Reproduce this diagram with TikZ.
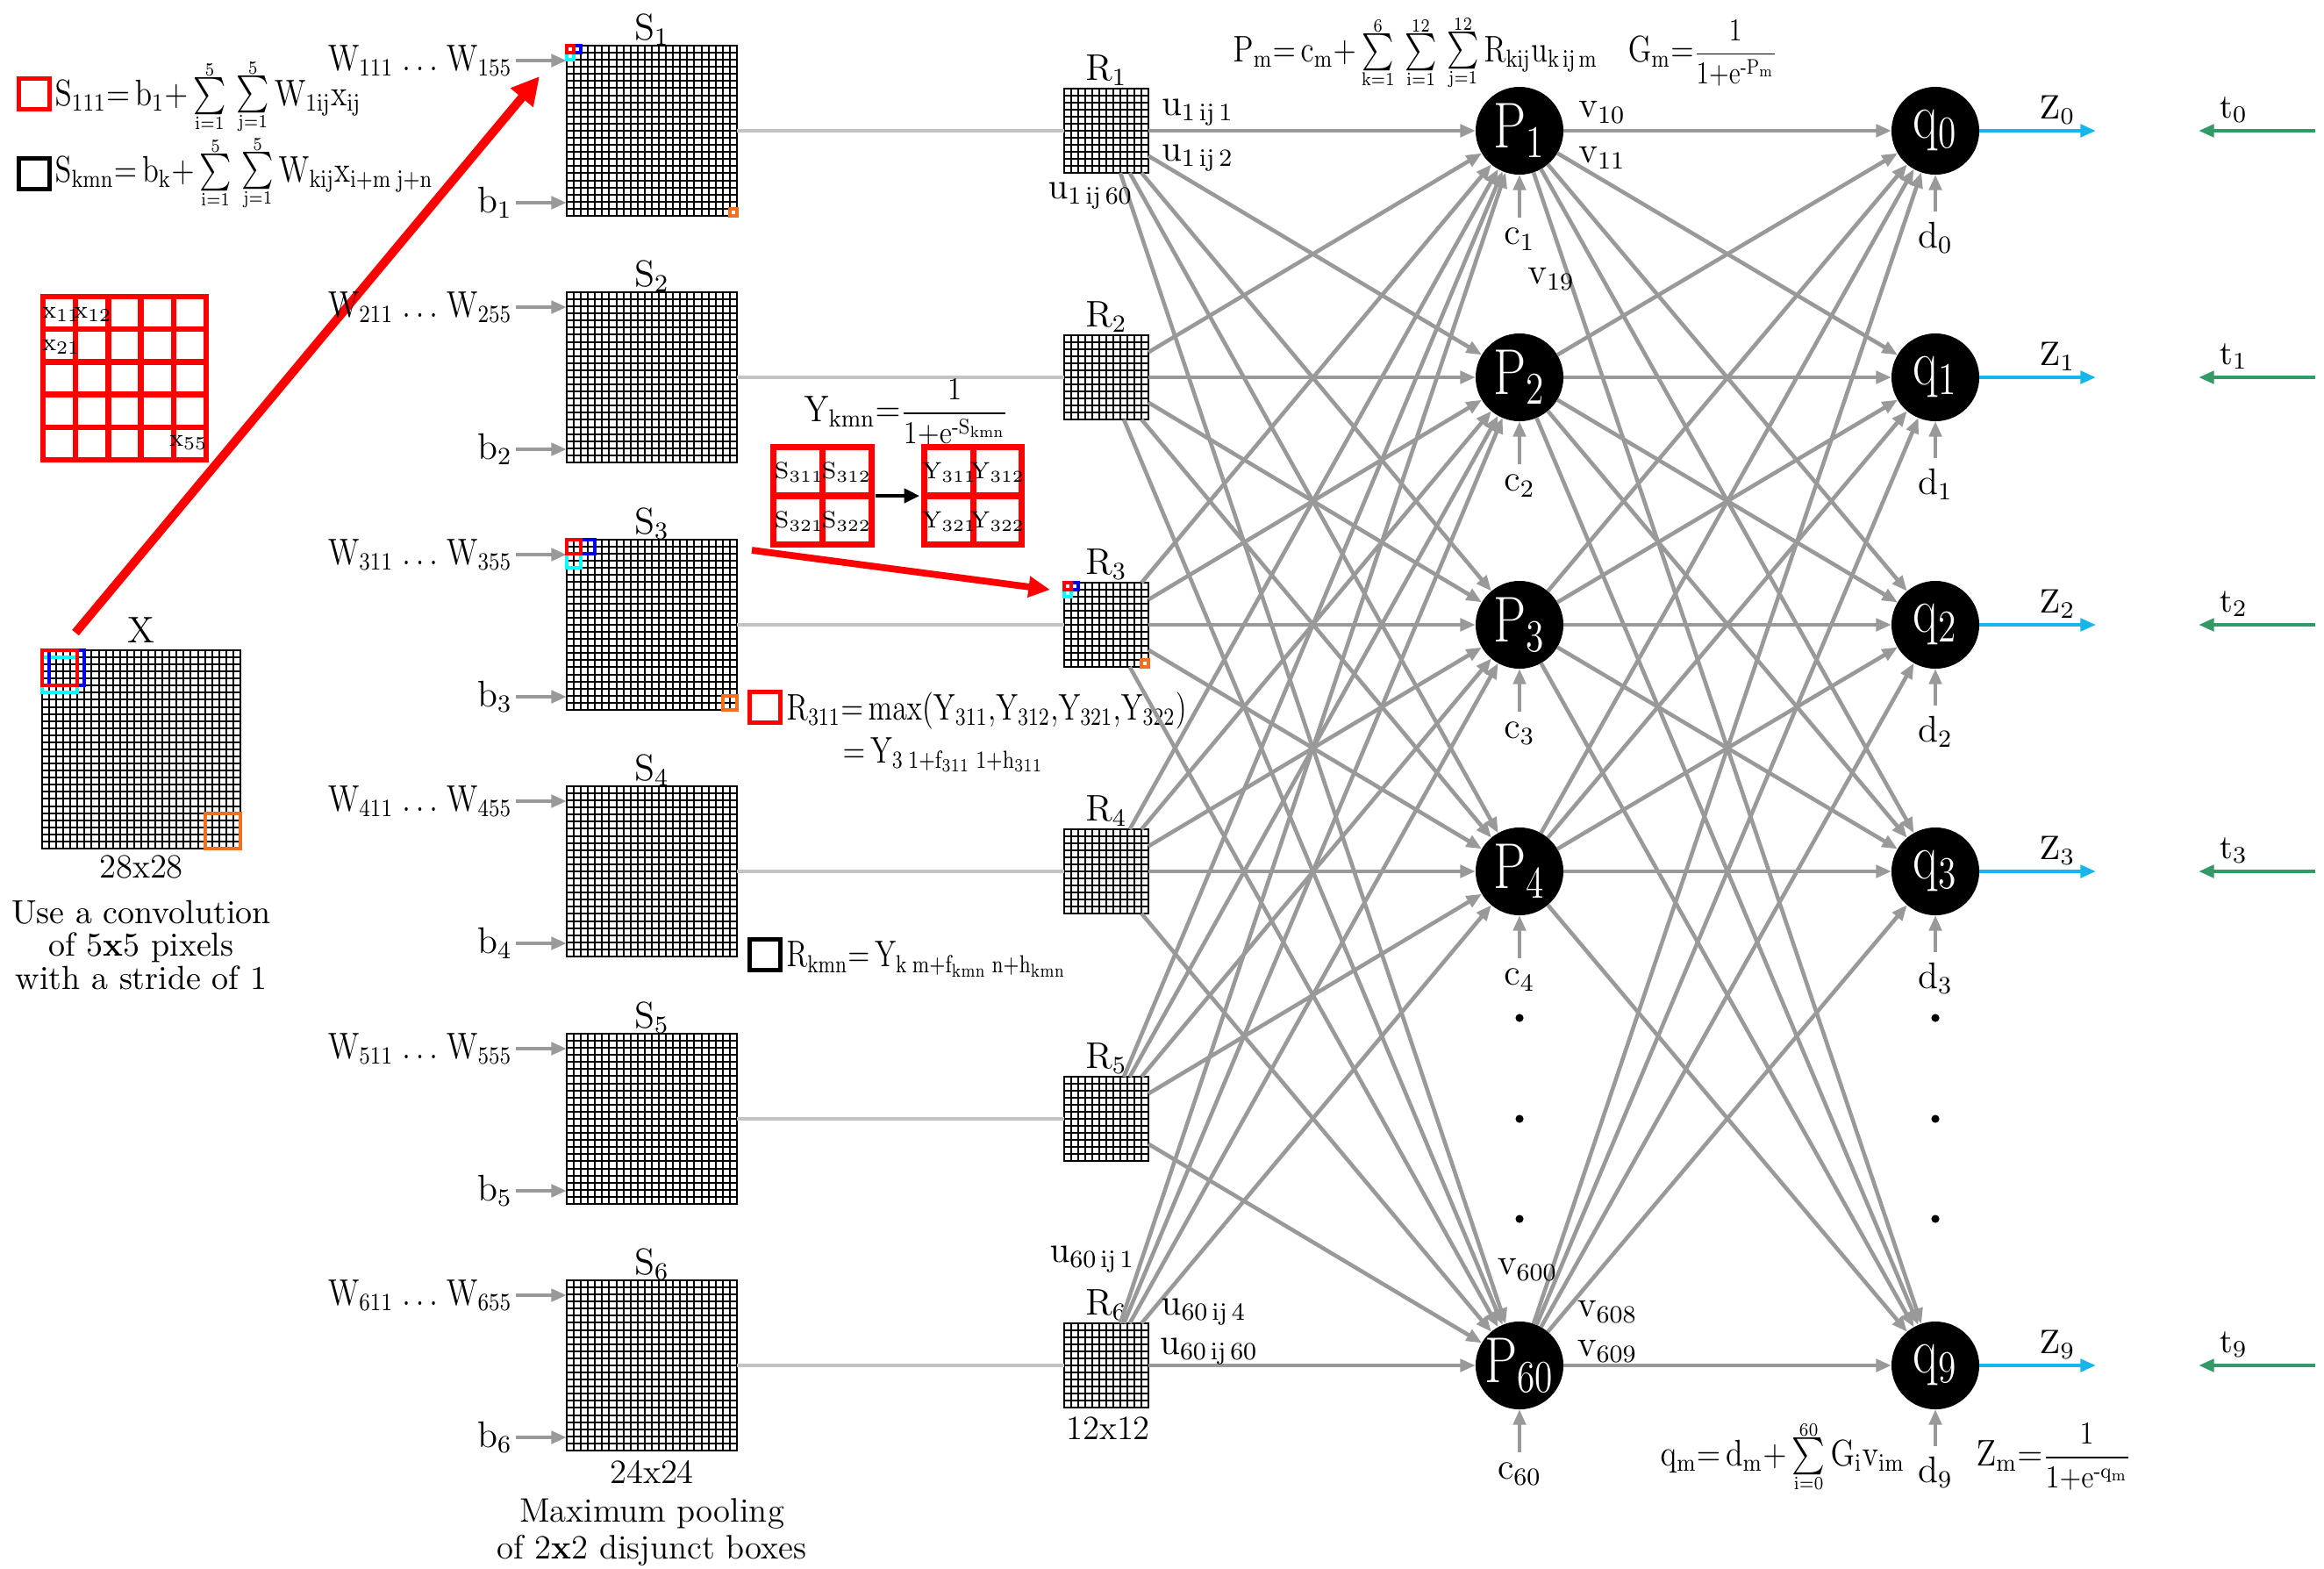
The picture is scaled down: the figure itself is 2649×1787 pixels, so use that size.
\RequirePackage{fix-cm}
\documentclass[tikz,border=0pt]{standalone}
\usepackage{amsmath}
\usepackage{graphicx}
\usetikzlibrary{arrows.meta,calc}
\definecolor{arrgray}{HTML}{999999}
\definecolor{lgray}{HTML}{C3C3C3}
\definecolor{zcyan}{HTML}{16B6EA}
\definecolor{tgreen}{HTML}{339966}
\definecolor{morange}{HTML}{F07020}
\definecolor{mcyan}{HTML}{00FFFF}
\definecolor{mblue}{HTML}{0000EE}
\definecolor{mred}{HTML}{FF0000}
\newcommand{\gridat}[4]{%
  \pgfmathsetmacro{\gx}{#1-#3/2}%
  \pgfmathsetmacro{\gy}{#2-#3/2}%
  \pgfmathsetmacro{\gs}{#3/#4}%
  \pgfmathtruncatemacro{\gnm}{#4-1}%
  \foreach \gi in {1,...,\gnm}{%
    \draw[gridline] ({\gx+round(\gi*\gs)},\gy) -- ++(0,#3);
    \draw[gridline] (\gx,{\gy+round(\gi*\gs)}) -- ++(#3,0);
  }}
% compact sum with limits
\newcommand{\csum}[2]{\mathop{\vcenter{\offinterlineskip\halign{\hfil##\hfil\cr$\scriptscriptstyle\mathrm{#2}$\cr\noalign{\kern0.6pt}$\textstyle\sum$\cr\noalign{\kern0.6pt}$\scriptscriptstyle\mathrm{#1}$\cr}}}}
\newcommand{\narrow}[2]{\scalebox{#1}[1]{#2}}
\newcommand{\sigfrac}[2]{\scalebox{0.86}{$\dfrac{#1}{#2}$}}
\begin{document}
\begin{tikzpicture}[x=0.01cm,y=-0.01cm,
  font=\fontsize{12}{14}\selectfont,
  gridline/.style={line width=0.569pt},
  gbox/.style={draw, line width=0.569pt, inner sep=0pt, outer sep=0pt},
  neuron/.style={circle, fill=black, text=white, minimum size=1cm, inner sep=0pt, outer sep=0pt, font=\fontsize{21}{24}\selectfont},
  garrow/.style={draw=arrgray, line width=1.3pt, -{Triangle[length=5pt,width=4pt]}},
  sline/.style={draw=lgray, line width=1.1pt},
  carrow/.style={draw=zcyan, line width=1.3pt, -{Triangle[length=5pt,width=4pt]}},
  tarrow/.style={draw=tgreen, line width=1.3pt, -{Triangle[length=5pt,width=4pt]}},
  cellmark/.style={line width=1pt},
  lbl/.style={inner sep=1pt},
  small/.style={font=\fontsize{11}{12}\selectfont},
  formula/.style={anchor=west, inner sep=0pt},
]
\fill[white] (0,0) rectangle (2649,1787);
\useasboundingbox (0,0) rectangle (2649,1787);

% ---------- left formulas ----------
\draw[mred, line width=1.4pt] (21.5,89.5) rectangle (56.5,124.5);
\node[formula] (f1) at (62,110) {\narrow{0.84}{$\mathrm{S_{111}}{=}\,\mathrm{b_1}{+}\csum{i=1}{5}\,\csum{j=1}{5}\mathrm{W_{1ij}x_{ij}}$}};
\draw[black, line width=1.4pt] (21.5,180.5) rectangle (56.5,215.5);
\node[formula] (f2) at (62,197) {\narrow{0.82}{$\mathrm{S_{kmn}}{=}\,\mathrm{b_k}{+}\csum{i=1}{5}\,\csum{j=1}{5}\mathrm{W_{kij}x_{i+m\;j+n}}$}};

% ---------- red 5x5 kernel ----------
\foreach \i in {0,...,5}{
  \draw[mred, line width=1.8pt, line cap=rect] ({49+\i*37.2},338) -- ({49+\i*37.2},524);
  \draw[mred, line width=1.8pt, line cap=rect] (49,{338+\i*37.2}) -- (235,{338+\i*37.2});
}
\begin{scope}[font=\fontsize{8}{9}\selectfont]
\node (x11) at (70,358) {$\mathrm{x}_{11}$};
\node (x12) at (106,358) {$\mathrm{x}_{12}$};
\node (x21) at (70,395) {$\mathrm{x}_{21}$};
\node (x55) at (215,504) {$\mathrm{x}_{55}$};
\end{scope}

% ---------- input X ----------
\node[gbox, minimum size=2.26cm] (X) at (161,854) {};
\gridat{161}{854}{226}{28}
\draw[mcyan, line width=1.4pt] (48,749) rectangle (88,789);
\draw[mblue, line width=1.4pt] (56,741) rectangle (96,781);
\draw[mred, line width=1.4pt] (48,741) rectangle (88,781);
\draw[morange, line width=1.4pt] (234,927) rectangle (274,967);
\node (Xlab) at (161,718) {X};
\node[small] (Xsize) at (161,988) {28x28};
\node[align=center, font=\fontsize{10.8}{10.6}\selectfont] (desc) at (161,1077) {Use a convolution\\ of 5\textbf{x}5 pixels\\ with a stride of 1};

% ---------- big red arrow ----------
\coordinate (rA) at (86,721);
\coordinate (rB) at (615,87);
\draw[mred, line width=2.8pt, -{Triangle[length=9pt,width=9pt]}] (rA) -- (rB);

% ---------- S layers ----------
\foreach \k in {1,...,6}{
  \pgfmathsetmacro{\yy}{round(149+(\k-1)*281.4)}
  \pgfmathsetmacro{\ytop}{\yy-97}
  \node[gbox, minimum size=1.94cm] (S\k) at (743,\yy) {};
  \gridat{743}{\yy}{194}{24}
  \node (SL\k) at (743,\ytop-18) {$\mathrm{S}_{\k}$};
  \node[anchor=east, lbl] (W\k) at (588,\ytop+17) {\narrow{0.84}{$\mathrm{W}_{\k11}\;.\,.\,.\;\mathrm{W}_{\k55}$}};
  \node[anchor=east, lbl] (b\k) at (588,\ytop+179) {$\mathrm{b}_{\k}$};
  \draw[garrow] (W\k.east) -- (W\k.east -| S\k.west);
  \draw[garrow] (b\k.east) -- (b\k.east -| S\k.west);
}
\node[small] (Ssize) at (743,1677) {24x24};
\node[align=center, small] (pool) at (743,1746) {Maximum pooling\\ of 2\textbf{x}2 disjunct boxes};

% markers on S1
\draw[mcyan, cellmark] (646,60) rectangle (654,68);
\draw[mblue, cellmark] (654,52) rectangle (662,60);
\draw[mred, cellmark] (646,52) rectangle (654,60);
\draw[morange, cellmark] (832,238) rectangle (840,246);
% markers on S3
\draw[mcyan, line width=1.2pt] (646,631) rectangle (662,647);
\draw[mblue, line width=1.2pt] (662,615) rectangle (678,631);
\draw[mred, line width=1.2pt] (646,615) rectangle (662,631);
\draw[morange, line width=1.2pt] (824,793) rectangle (840,809);

% ---------- R layers ----------
\foreach \k in {1,...,6}{
  \pgfmathsetmacro{\yy}{round(149+(\k-1)*281.4)}
  \node[gbox, minimum size=0.96cm] (R\k) at (1261,\yy) {};
  \gridat{1261}{\yy}{96}{12}
  \node (RL\k) at (1261,\yy-69) {$\mathrm{R}_{\k}$};
  \draw[sline] (S\k) -- (R\k);
}
\node[small] (Rsize) at (1263,1628) {12x12};
% markers on R3
\draw[mcyan, cellmark] (1213,672) rectangle (1221,680);
\draw[mblue, cellmark] (1221,664) rectangle (1229,672);
\draw[mred, cellmark] (1213,664) rectangle (1221,672);
\draw[morange, cellmark] (1301,752) rectangle (1309,760);

% ---------- sigmoid / pooling illustration ----------
\node[formula] (yf) at (916,470) {\narrow{0.9}{$\mathrm{Y_{kmn}}{=}\sigfrac{1}{1{+}\mathrm{e}^{\text{-}\mathrm{S_{kmn}}}}$}};
\node[draw=mred, line width=2pt, minimum size=1.11cm, inner sep=0pt, outer sep=0pt] (SQ) at (937.5,565) {};
\draw[mred, line width=2pt] (SQ.north) -- (SQ.south) (SQ.west) -- (SQ.east);
\node[draw=mred, line width=2pt, minimum size=1.11cm, inner sep=0pt, outer sep=0pt] (YQ) at (1109,565) {};
\draw[mred, line width=2pt] (YQ.north) -- (YQ.south) (YQ.west) -- (YQ.east);
\begin{scope}[font=\fontsize{7.6}{9}\selectfont]
\node (s311) at (911,538) {$\mathrm{S}_{311}$};
\node (s312) at (965,538) {$\mathrm{S}_{312}$};
\node (s321) at (911,594) {$\mathrm{S}_{321}$};
\node (s322) at (965,594) {$\mathrm{S}_{322}$};
\node (y311) at (1082,538) {$\mathrm{Y}_{311}$};
\node (y312) at (1137,538) {$\mathrm{Y}_{312}$};
\node (y321) at (1082,594) {$\mathrm{Y}_{321}$};
\node (y322) at (1137,594) {$\mathrm{Y}_{322}$};
\end{scope}
\draw[black, line width=1.3pt, -{Triangle[length=5pt,width=4.5pt]}, shorten <=1.5pt, shorten >=1.5pt] (SQ.east) -- (YQ.west);

\coordinate (rC) at (857,627);
\coordinate (rD) at (1197,672);
\draw[mred, line width=2.2pt, -{Triangle[length=7pt,width=6.5pt]}] (rC) -- (rD);

\draw[mred, line width=1.4pt] (854.5,788.5) rectangle (889.5,823.5);
\node[formula] (rmax) at (896,810) {\narrow{0.8}{$\mathrm{R_{311}}{=}\max(\mathrm{Y_{311}{,}Y_{312}{,}Y_{321}{,}Y_{322}})$}};
\node[formula] (rmax2) at (960,860) {\narrow{0.8}{${=}\,\mathrm{Y_{3\;1+f_{311}\;1+h_{311}}}$}};
\draw[black, line width=1.4pt] (854.5,1070.5) rectangle (889.5,1105.5);
\node[formula] (rkmn) at (896,1093) {\narrow{0.78}{$\mathrm{R_{kmn}}{=}\,\mathrm{Y_{k\;m+f_{kmn}\;n+h_{kmn}}}$}};

% ---------- neurons ----------
\foreach \i/\yy/\qn/\pn in {1/149/0/1,2/430/1/2,3/712/2/3,4/993/3/4,5/1556/9/60}{
  \node[neuron] (P\i) at (1732,\yy) {\scalebox{0.8}[1]{$\mathrm{P}_{\pn}$}};
  \node[neuron] (Q\i) at (2206,\yy) {\scalebox{0.8}[1]{$\mathrm{q}_{\qn}$}};
  \node (c\i) at (1732,\yy+124) {$\mathrm{c}_{\pn}$};
  \draw[garrow] (c\i) -- (P\i);
  \node (d\i) at (2206,\yy+122) {$\mathrm{d}_{\qn}$};
  \draw[garrow] (d\i) -- (Q\i);
  \coordinate (ze\i) at (2389,\yy);
  \draw[carrow] (Q\i) -- (ze\i);
  \node[small] (Z\i) at (2345,\yy-24) {$\mathrm{Z}_{\qn}$};
  \coordinate (ts\i) at (2639,\yy);
  \coordinate (te\i) at (2506,\yy);
  \draw[tarrow] (ts\i) -- (te\i);
  \node[small] (t\i) at (2546,\yy-24) {$\mathrm{t}_{\qn}$};
}

% connections
\foreach \k in {1,...,6}{
  \foreach \m in {1,...,5}{
    \draw[garrow] (R\k) -- (P\m);
  }
}
\foreach \m in {1,...,5}{
  \foreach \n in {1,...,5}{
    \draw[garrow] (P\m) -- (Q\n);
  }
}

% dots
\foreach \yy in {1160,1275,1389}{
  \fill (1732,\yy) circle (1.3pt);
  \fill (2206,\yy) circle (1.3pt);
}

% weight labels
\node (u11) at (1365,128) {$\mathrm{u}_{1\,\mathrm{ij}\,1}$};
\node (u12) at (1365,180) {$\mathrm{u}_{1\,\mathrm{ij}\,2}$};
\node (u160) at (1243,223) {$\mathrm{u}_{1\,\mathrm{ij}\,60}$};
\node (u601) at (1245,1435) {$\mathrm{u}_{60\,\mathrm{ij}\,1}$};
\node (u604) at (1372,1495) {$\mathrm{u}_{60\,\mathrm{ij}\,4}$};
\node (u6060) at (1378,1540) {$\mathrm{u}_{60\,\mathrm{ij}\,60}$};
\node (v10) at (1826,128) {$\mathrm{v}_{10}$};
\node (v11) at (1826,180) {$\mathrm{v}_{11}$};
\node (v19) at (1768,318) {$\mathrm{v}_{19}$};
\node (v600) at (1741,1447) {$\mathrm{v}_{600}$};
\node (v608) at (1832,1495) {$\mathrm{v}_{608}$};
\node (v609) at (1832,1540) {$\mathrm{v}_{609}$};

% ---------- top / bottom formulas ----------
\node[formula] (pf) at (1405,60) {\narrow{0.82}{$\mathrm{P_m}{=}\,\mathrm{c_m}{+}\csum{k=1}{6}\,\csum{i=1}{12}\,\csum{j=1}{12}\mathrm{R_{kij}u_{k\,ij\,m}}\quad\mathrm{G_m}{=}\sigfrac{1}{1{+}\mathrm{e}^{\text{-}\mathrm{P_m}}}$}};
\node[formula] (qf) at (1892,1660) {\narrow{0.85}{$\mathrm{q_m}{=}\,\mathrm{d_m}{+}\csum{i=0}{60}\mathrm{G_i v_{im}}$}};
\node[formula] (zf) at (2252,1660) {\narrow{0.9}{$\mathrm{Z_m}{=}\sigfrac{1}{1{+}\mathrm{e}^{\text{-}\mathrm{q_m}}}$}};
\end{tikzpicture}
\end{document}
